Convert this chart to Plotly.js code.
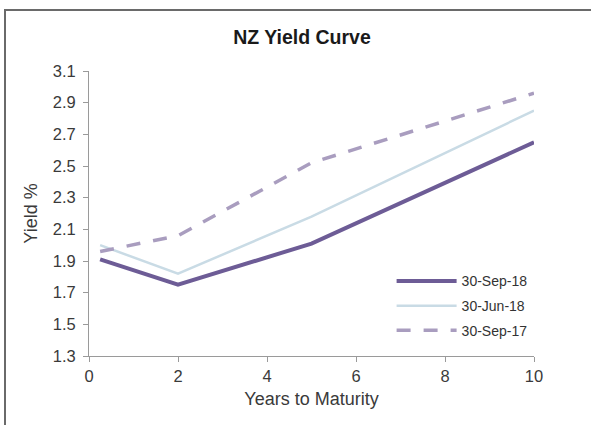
<!DOCTYPE html>
<html>
<head>
<meta charset="utf-8">
<script src="https://cdn.plot.ly/plotly-3.0.1.min.js"></script>
<style>
html,body{margin:0;padding:0;background:#fff;overflow:hidden;}
#chart{position:absolute;left:0;top:0;width:591px;height:425px;}
#frame{position:absolute;left:4px;top:9px;width:700px;height:600px;border-left:2px solid #6a6a6a;border-top:2px solid #6a6a6a;pointer-events:none;}
</style>
</head>
<body>
<div id="chart"></div>
<div id="frame"></div>
<script>
// Data
const maturities = [0.25, 2, 5, 10];
const seriesNames = ["30-Sep-18", "30-Jun-18", "30-Sep-17"];
const sep18 = [1.91, 1.75, 2.01, 2.65];
const jun18 = [2.00, 1.82, 2.18, 2.85];
const sep17 = [1.96, 2.06, 2.52, 2.96];
const xTicks = [0, 2, 4, 6, 8, 10];
const yTicks = [1.3, 1.5, 1.7, 1.9, 2.1, 2.3, 2.5, 2.7, 2.9, 3.1];

const font = "Arial, 'Liberation Sans', sans-serif";
const traces = [
  {x: maturities, y: sep18, name: seriesNames[0], mode: "lines", legendgroup: "a",
   line: {color: "#6d5c96", width: 4}},
  {x: maturities, y: jun18, name: seriesNames[1], mode: "lines", legendgroup: "b",
   line: {color: "#c9dbe5", width: 2.5}},
  {x: maturities, y: sep17, name: seriesNames[2], mode: "lines", legendgroup: "c",
   line: {color: "#a99dbf", width: 3.5, dash: "14px,13px"}}
];

const axisCommon = {
  showgrid: false, zeroline: false, showline: true, linecolor: "#9a9a9a", linewidth: 1,
  ticks: "outside", ticklen: 5, tickcolor: "#9a9a9a", tickwidth: 1,
  tickfont: {family: font, size: 16.5, color: "#3a3a3a"}
};

const layout = {
  width: 591, height: 425,
  margin: {l: 89, r: 57, t: 71, b: 69},
  paper_bgcolor: "#fff", plot_bgcolor: "#fff",
  title: {text: "<b>NZ Yield Curve</b>", font: {family: font, size: 19.5, color: "#1a1a1a"},
          x: 0.511, xanchor: "center", y: 0.912, yanchor: "middle"},
  xaxis: Object.assign({}, axisCommon, {
    range: [0, 10], tickvals: xTicks, ticktext: xTicks.map(String),
    title: {text: "Years to Maturity", font: {family: font, size: 18, color: "#3a3a3a"}, standoff: 8}
  }),
  yaxis: Object.assign({}, axisCommon, {
    range: [1.3, 3.1], tickvals: yTicks, ticktext: yTicks.map(v => v.toFixed(1)),
    ticklabelstandoff: 4,
    title: {text: "Yield %", font: {family: font, size: 18, color: "#3a3a3a"}, standoff: 10}
  }),
  showlegend: true,
  legend: {x: 0.68, xanchor: "left", y: 0.318, yanchor: "top", bgcolor: "rgba(0,0,0,0)",
           font: {family: font, size: 14, color: "#333"}, itemwidth: 60, tracegroupgap: 3.5}
};

Plotly.newPlot("chart", traces, layout, {displayModeBar: false, staticPlot: true});
</script>
</body>
</html>
